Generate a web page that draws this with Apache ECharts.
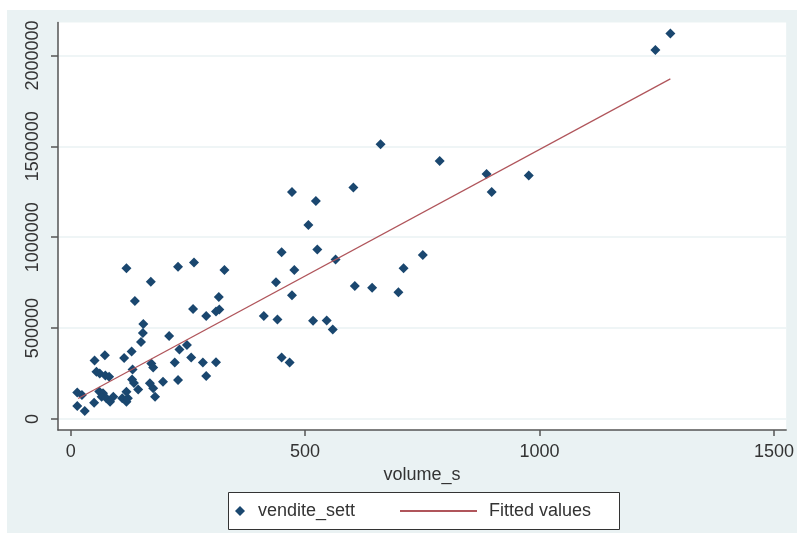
<!DOCTYPE html>
<html>
<head>
<meta charset="utf-8">
<style>
  html, body { margin: 0; padding: 0; background: #ffffff; }
  #chart { width: 797px; height: 533px; }
</style>
<script src="https://cdn.jsdelivr.net/npm/echarts@6/dist/echarts.min.js"></script>
</head>
<body>
<div id="chart"></div>
<script>
// Weekly volume (volume_s) against weekly sales (vendite_sett)
const volumeS = [
  119, 171, 137, 229, 263, 328, 316, 317, 310, 289,
  261, 210, 232, 248, 222, 257, 282, 310, 289, 229,
  197, 155, 154, 150, 130, 114, 73, 51, 172, 176,
  55, 62, 74, 82, 132, 131, 135, 169, 176, 180,
  144, 14, 24, 61, 69, 66, 76, 84, 91, 110,
  119, 122, 50, 14, 30, 119,
  472, 603, 523, 507, 450, 526, 565, 477, 710, 438,
  472, 606, 643, 699, 412, 441, 517, 546, 559, 450,
  467, 661, 751, 787, 887, 898, 977, 1247, 1279
];
const venditeSett = [
  829000, 755000, 649000, 838000, 861000, 820000, 671000, 603000, 591000, 567000,
  605000, 457000, 382000, 407000, 311000, 338000, 311000, 312000, 237000, 215000,
  205000, 523000, 473000, 424000, 371000, 336000, 350000, 322000, 305000, 283000,
  260000, 250000, 239000, 233000, 272000, 217000, 198000, 196000, 169000, 123000,
  162000, 146000, 132000, 151000, 141000, 123000, 114000, 95000, 123000, 114000,
  95000, 114000, 90000, 72000, 44000, 150000,
  1249000, 1274000, 1199000, 1067000, 917000, 932000, 878000, 820000, 829000, 752000,
  681000, 732000, 722000, 697000, 567000, 548000, 541000, 542000, 492000, 338000,
  311000, 1511000, 902000, 1419000, 1348000, 1249000, 1339000, 2030000, 2121000
];

// Linear fit end points (Fitted values)
const fitX = [16, 1279];
const fitY = [113000, 1871000];

// Tick labels
const xTicks = [0, 500, 1000, 1500];
const yTicks = [0, 500000, 1000000, 1500000, 2000000];

const seriesNames = ['vendite_sett', 'Fitted values'];

const font = '"Liberation Sans", Arial, sans-serif';
const textColor = '#333333';
const navy = '#1A476F';
const fitColor = '#B0555B';

const plain = v => String(v);

const chart = echarts.init(document.getElementById('chart'), null, { renderer: 'canvas' });

const option = {
  backgroundColor: '#ffffff',
  animation: false,
  textStyle: { fontFamily: font },
  graphic: [
    { type: 'rect', z: -10, silent: true,
      shape: { x: 7, y: 10, width: 790, height: 523 },
      style: { fill: '#EAF2F3' } },
    { type: 'rect', z: 1, silent: true,
      shape: { x: 228.5, y: 492.5, width: 391, height: 37 },
      style: { fill: '#ffffff', stroke: '#333333', lineWidth: 1 } }
  ],
  grid: {
    left: 58, top: 22.5, width: 731, height: 407.5,
    show: true, backgroundColor: '#ffffff', borderWidth: 0,
    containLabel: false
  },
  xAxis: {
    type: 'value',
    min: -27, max: 1526,
    name: 'volume_s',
    nameLocation: 'middle',
    nameGap: 32,
    nameTextStyle: { fontSize: 18, color: textColor, fontFamily: font },
    axisLine: { show: true, onZero: false, lineStyle: { color: '#555555', width: 1.5 } },
    axisTick: { show: true, customValues: xTicks, length: 6, lineStyle: { color: '#555555', width: 1.5 } },
    axisLabel: { customValues: xTicks, formatter: plain, fontSize: 18, color: textColor, margin: 13, fontFamily: font },
    splitLine: { show: false }
  },
  yAxis: {
    type: 'value',
    min: -60500, max: 2181000,
    axisLine: { show: true, onZero: false, lineStyle: { color: '#555555', width: 1.5 } },
    axisTick: { show: true, customValues: yTicks, length: 7, lineStyle: { color: '#555555', width: 1.5 } },
    axisLabel: { customValues: yTicks, formatter: plain, fontSize: 18, color: textColor, rotate: 90, margin: 16, fontFamily: font },
    splitLine: { show: true, lineStyle: { color: '#EAF2F3', width: 1.5 } }
  },
  legend: [
    {
      data: [{ name: seriesNames[0], icon: 'diamond' }],
      left: 235, top: 502,
      padding: 0,
      itemWidth: 10, itemHeight: 10,
      textStyle: { fontSize: 18, color: textColor, fontFamily: font, padding: [0, 0, 0, 8] },
      z: 5
    },
    {
      data: [{ name: seriesNames[1], icon: 'rect' }],
      left: 400, top: 502,
      padding: 0,
      itemWidth: 77, itemHeight: 2,
      symbolKeepAspect: false,
      itemStyle: { color: fitColor },
      textStyle: { fontSize: 18, color: textColor, fontFamily: font, padding: [0, 0, 0, 7] },
      z: 5
    }
  ],
  series: [
    {
      name: seriesNames[0],
      type: 'scatter',
      symbol: 'diamond',
      symbolSize: 10,
      itemStyle: { color: navy, opacity: 1 },
      data: volumeS.map((v, i) => [v, venditeSett[i]]),
      z: 3
    },
    {
      name: seriesNames[1],
      type: 'line',
      symbol: 'none',
      showSymbol: false,
      lineStyle: { color: fitColor, width: 1.2 },
      itemStyle: { color: fitColor },
      data: fitX.map((v, i) => [v, fitY[i]]),
      z: 4
    }
  ]
};

chart.setOption(option);
</script>
</body>
</html>
